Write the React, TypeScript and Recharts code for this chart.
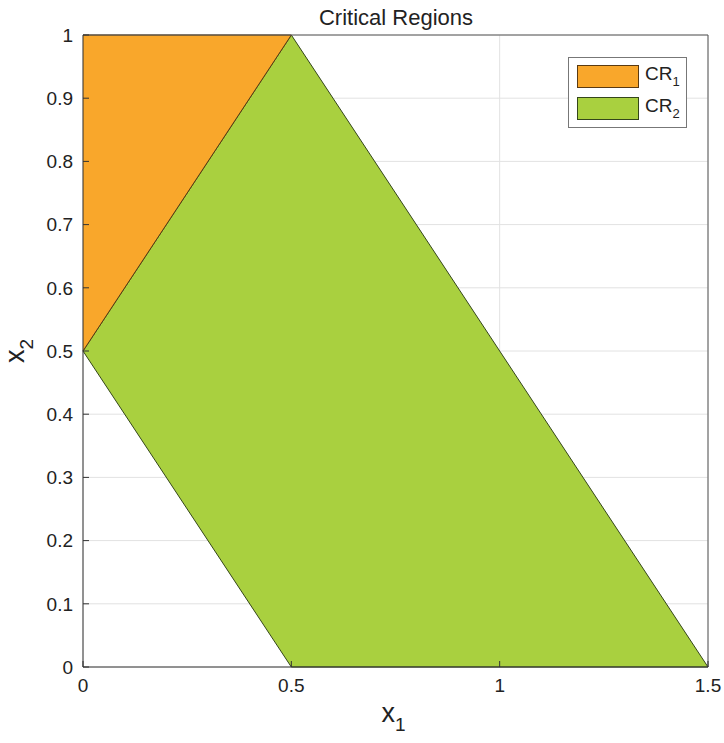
import React from 'react';
import { ComposedChart, Area, XAxis, YAxis, CartesianGrid, ReferenceLine, Customized } from 'recharts';

const x1Values = [0, 0.5, 1.5];
const cr1Low = [0.5, 1, null];
const cr1High = [1, 1, null];
const cr2Low = [0.5, 0, 0];
const cr2High = [0.5, 1, 0];
const xTicks = [0, 0.5, 1, 1.5];
const yTicks = [0, 0.1, 0.2, 0.3, 0.4, 0.5, 0.6, 0.7, 0.8, 0.9, 1];
const seriesNames = ['CR', 'CR'];
const seriesSubs = ['1', '2'];
const seriesColors = ['#F9A72B', '#A9D03F'];
const seriesEdges = ['#5a3a12', '#34461a'];

const data = x1Values.map((x, i) => ({
  x,
  cr1: cr1Low[i] === null ? null : [cr1Low[i], cr1High[i]],
  cr2: [cr2Low[i], cr2High[i]],
}));

const FONT = 'Helvetica, Arial, "Liberation Sans", sans-serif';

const fmt = (v: number) => String(v);

const LegendBox = () => (
  <div
    style={{
      position: 'absolute',
      left: 568,
      top: 57,
      width: 119,
      height: 71,
      boxSizing: 'border-box',
      border: '1px solid #777',
      background: '#fff',
      fontFamily: FONT,
      fontSize: 19,
      color: '#222',
    }}
  >
    {seriesNames.map((n, i) => (
      <div key={i} style={{ position: 'absolute', left: 8, top: 6 + i * 32, height: 24, display: 'flex', alignItems: 'center' }}>
        <div style={{ width: 62, height: 23, boxSizing: 'border-box', background: seriesColors[i], border: `1px solid ${seriesEdges[i]}` }} />
        <span style={{ marginLeft: 6, whiteSpace: 'nowrap' }}>
          {n}
          <sub style={{ fontSize: 13, verticalAlign: -6 }}>{seriesSubs[i]}</sub>
        </span>
      </div>
    ))}
  </div>
);

const Title = () => (
  <text x={396} y={25} textAnchor="middle" fontFamily={FONT} fontSize={22} fill="#222">
    Critical Regions
  </text>
);

export default function App() {
  return (
    <div style={{ position: 'absolute', left: 0, top: 0, width: 724, height: 743, background: '#fff' }}>
      <ComposedChart
        width={724}
        height={743}
        data={data}
        margin={{ top: 35, right: 16, left: 0, bottom: 0 }}
        style={{ overflow: 'visible' }}
      >
        <CartesianGrid stroke="#e2e2e2" strokeWidth={1} />
        <XAxis
          dataKey="x"
          type="number"
          domain={[0, 1.5]}
          ticks={xTicks}
          tickFormatter={fmt}
          height={76}
          axisLine={{ stroke: '#333' }}
          tickLine={{ stroke: '#333' }}
          tickSize={-6}
          tickMargin={18}
          tick={{ fontFamily: FONT, fontSize: 19, fill: '#222' }}
          interval={0}
          label={{
            content: (props: any) => {
              const vb = props.viewBox || { x: 83, y: 667, width: 625 };
              const cx = vb.x + vb.width / 2;
              return (
                <text x={cx - 2} y={722} textAnchor="middle" fontFamily={FONT} fontSize={27} fill="#222">
                  x<tspan fontSize={19} dy={9}>1</tspan>
                </text>
              );
            },
          }}
        />
        <YAxis
          type="number"
          domain={[0, 1]}
          ticks={yTicks}
          tickFormatter={fmt}
          width={83}
          axisLine={{ stroke: '#333' }}
          tickLine={{ stroke: '#333' }}
          tickSize={-6}
          tickMargin={16}
          tick={{ fontFamily: FONT, fontSize: 19, fill: '#222' }}
          interval={0}
          label={{
            content: () => (
              <text
                x={0}
                y={0}
                transform="translate(24, 351) rotate(-90)"
                textAnchor="middle"
                fontFamily={FONT}
                fontSize={27}
                fill="#222"
              >
                x<tspan fontSize={19} dy={9}>2</tspan>
              </text>
            ),
          }}
        />
        <Area
          type="linear"
          dataKey="cr2"
          fill={seriesColors[1]}
          fillOpacity={1}
          stroke={seriesEdges[1]}
          strokeWidth={1}
          isAnimationActive={false}
          dot={false}
          activeDot={false}
        />
        <Area
          type="linear"
          dataKey="cr1"
          fill={seriesColors[0]}
          fillOpacity={1}
          stroke={seriesEdges[0]}
          strokeWidth={1}
          isAnimationActive={false}
          dot={false}
          activeDot={false}
        />
        <ReferenceLine y={1} stroke="#555" strokeWidth={1} />
        <ReferenceLine x={1.5} stroke="#555" strokeWidth={1} />
        <Customized component={Title} />
      </ComposedChart>
      <LegendBox />
    </div>
  );
}
